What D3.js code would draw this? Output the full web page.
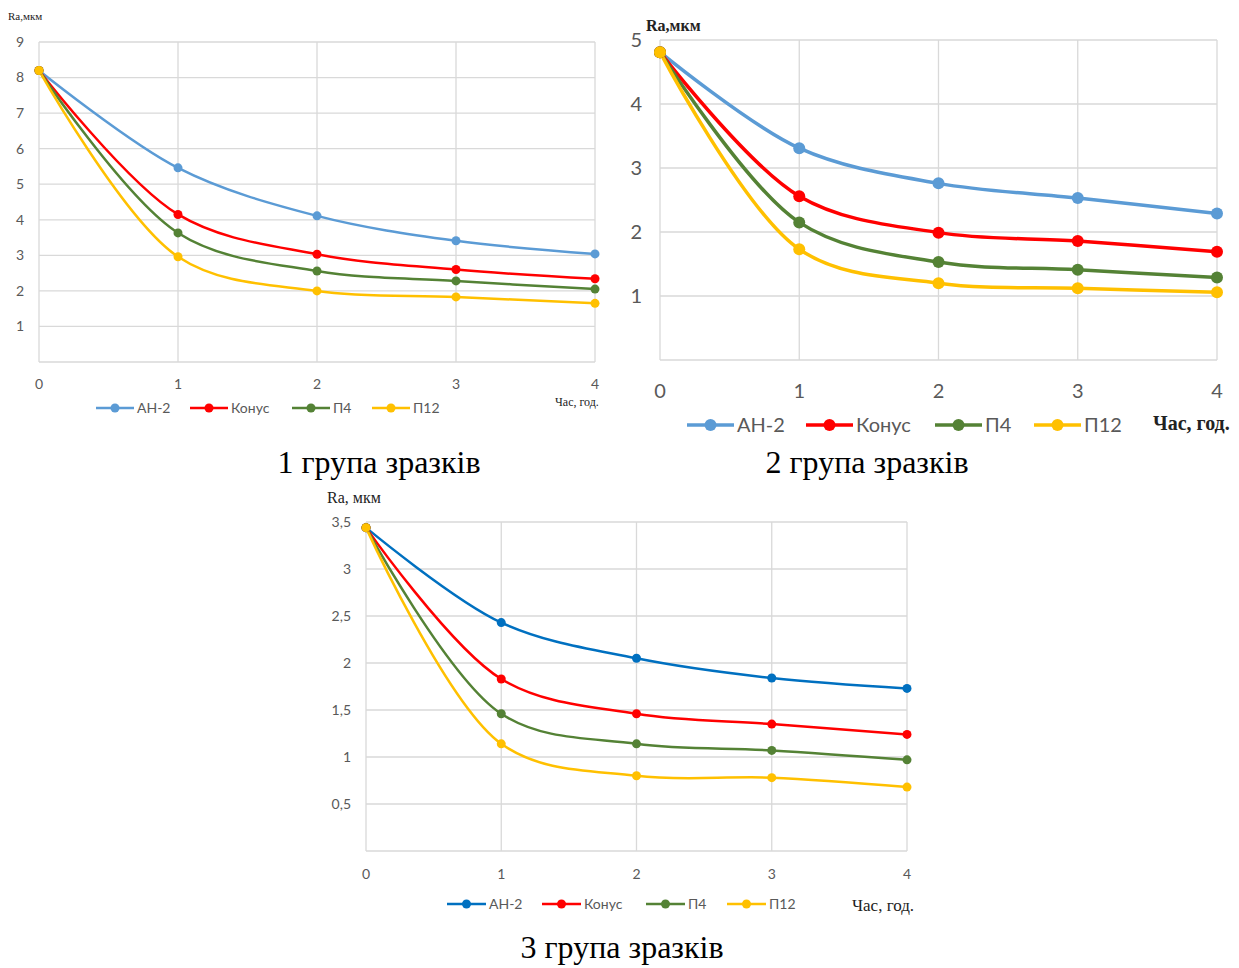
<!DOCTYPE html>
<html>
<head>
<meta charset="utf-8">
<script src="https://cdn.jsdelivr.net/npm/d3@7"></script>
<style>
  body { margin: 0; background: #fff; }
  svg { display: block; }
  .tick-label { fill: #595959; font-family: Lato, "Liberation Sans", sans-serif; }
  .grid line { stroke: #d9d9d9; stroke-width: 1.3; }
  .caption { font-family: "Liberation Serif", serif; fill: #000; }
  .unit { font-family: "Liberation Serif", serif; fill: #222; }
</style>
</head>
<body>
<script>
// shared categories
const hours = [0, 1, 2, 3, 4];
const seriesNames = ["АН-2", "Конус", "П4", "П12"];

// group 1 (Ra, мкм)
const g1AN2   = [8.2, 5.46, 4.11, 3.41, 3.04];
const g1Konus = [8.2, 4.15, 3.03, 2.6, 2.34];
const g1P4    = [8.2, 3.63, 2.56, 2.28, 2.05];
const g1P12   = [8.2, 2.96, 2.0, 1.83, 1.65];
const g1Ticks = [1, 2, 3, 4, 5, 6, 7, 8, 9];

// group 2
const g2AN2   = [4.81, 3.31, 2.76, 2.53, 2.29];
const g2Konus = [4.81, 2.56, 1.99, 1.86, 1.69];
const g2P4    = [4.81, 2.15, 1.53, 1.41, 1.29];
const g2P12   = [4.81, 1.73, 1.2, 1.12, 1.06];
const g2Ticks = [1, 2, 3, 4, 5];

// group 3
const g3AN2   = [3.44, 2.43, 2.05, 1.84, 1.73];
const g3Konus = [3.44, 1.83, 1.46, 1.35, 1.24];
const g3P4    = [3.44, 1.46, 1.14, 1.07, 0.97];
const g3P12   = [3.44, 1.14, 0.8, 0.78, 0.68];
const g3Ticks = [0.5, 1, 1.5, 2, 2.5, 3, 3.5];

const svg = d3.select("body").append("svg")
    .attr("width", 1239)
    .attr("height", 968);

const fmt = d => String(d).replace(".", ",");

function drawPanel(o) {
  const x = d3.scaleLinear().domain([0, 4]).range([o.left, o.right]);
  const y = d3.scaleLinear().domain([0, o.yMax]).range([o.bottom, o.top]);
  const g = svg.append("g");

  // grid
  const grid = g.append("g").attr("class", "grid");
  grid.selectAll(".h").data([0].concat(o.ticks)).enter().append("line")
      .attr("x1", o.left).attr("x2", o.right)
      .attr("y1", d => y(d)).attr("y2", d => y(d));
  grid.selectAll(".v").data(hours).enter().append("line")
      .attr("x1", d => x(d)).attr("x2", d => x(d))
      .attr("y1", o.top).attr("y2", o.bottom);

  // y tick labels
  g.selectAll(".yl").data(o.ticks).enter().append("text")
      .attr("class", "tick-label")
      .attr("x", o.left - o.yPad)
      .attr("y", d => y(d))
      .attr("dy", "0.35em")
      .attr("text-anchor", "end")
      .style("font-size", o.tickSize + "px")
      .text(fmt);

  // x tick labels
  g.selectAll(".xl").data(hours).enter().append("text")
      .attr("class", "tick-label")
      .attr("x", d => x(d))
      .attr("y", o.bottom + o.xPad)
      .attr("text-anchor", "middle")
      .style("font-size", o.tickSize + "px")
      .text(d => d);

  // series
  const line = d3.line()
      .x((d, i) => x(hours[i]))
      .y(d => y(d))
      .curve(d3.curveCatmullRom.alpha(0.5));

  o.series.forEach((vals, si) => {
    g.append("path")
        .attr("d", line(vals))
        .attr("fill", "none")
        .attr("stroke", o.colors[si])
        .attr("stroke-width", o.lw);
  });
  o.series.forEach((vals, si) => {
    g.selectAll(null).data(vals).enter().append("circle")
        .attr("cx", (d, i) => x(hours[i]))
        .attr("cy", d => y(d))
        .attr("r", o.r)
        .attr("fill", o.colors[si]);
  });

  // legend
  seriesNames.forEach((name, si) => {
    const lx = o.legendX[si];
    g.append("line")
        .attr("x1", lx).attr("x2", lx + o.legendLen)
        .attr("y1", o.legendY).attr("y2", o.legendY)
        .attr("stroke", o.colors[si]).attr("stroke-width", o.lw);
    g.append("circle")
        .attr("cx", lx + o.legendLen / 2).attr("cy", o.legendY)
        .attr("r", o.r).attr("fill", o.colors[si]);
    g.append("text")
        .attr("class", "tick-label")
        .attr("x", lx + o.legendLen + 3)
        .attr("y", o.legendY)
        .attr("dy", "0.35em")
        .style("font-size", o.legendSize + "px")
        .text(name);
  });

  // axis titles
  g.append("text").attr("class", "unit")
      .attr("x", o.yTitle[0]).attr("y", o.yTitle[1])
      .style("font-size", o.unitSize + "px")
      .style("font-weight", o.unitBold ? "bold" : "normal")
      .text(o.yTitleText);
  g.append("text").attr("class", "unit")
      .attr("x", o.xTitle[0]).attr("y", o.xTitle[1])
      .style("font-size", o.xUnitSize + "px")
      .style("font-weight", o.unitBold ? "bold" : "normal")
      .text("Час, год.");

  g.append("text").attr("class", "caption")
      .attr("x", o.caption[0]).attr("y", o.caption[1])
      .attr("text-anchor", "middle")
      .style("font-size", "32px")
      .text(o.captionText);
}

drawPanel({
  left: 39, right: 595, top: 42, bottom: 362, yMax: 9, ticks: g1Ticks,
  series: [g1AN2, g1Konus, g1P4, g1P12],
  colors: ["#5b9bd5", "#ff0000", "#548235", "#ffc000"],
  lw: 2.5, r: 4.5, tickSize: 14, yPad: 15, xPad: 27,
  legendX: [96, 190, 292, 372], legendLen: 38, legendY: 408, legendSize: 14,
  unitSize: 11, xUnitSize: 12, unitBold: false, yTitle: [8, 20], yTitleText: "Ra,мкм", xTitle: [555, 406],
  caption: [379, 473], captionText: "1 група зразків"
});

drawPanel({
  left: 660, right: 1217, top: 40, bottom: 360, yMax: 5, ticks: g2Ticks,
  series: [g2AN2, g2Konus, g2P4, g2P12],
  colors: ["#5b9bd5", "#ff0000", "#548235", "#ffc000"],
  lw: 3.5, r: 6, tickSize: 20, yPad: 18, xPad: 38,
  legendX: [687, 806, 935, 1034], legendLen: 47, legendY: 425, legendSize: 20,
  unitSize: 16, xUnitSize: 20, unitBold: true, yTitle: [646, 31], yTitleText: "Ra,мкм", xTitle: [1153, 430],
  caption: [867, 473], captionText: "2 група зразків"
});

drawPanel({
  left: 366, right: 907, top: 522, bottom: 851, yMax: 3.5, ticks: g3Ticks,
  series: [g3AN2, g3Konus, g3P4, g3P12],
  colors: ["#0070c0", "#ff0000", "#548235", "#ffc000"],
  lw: 2.5, r: 4.5, tickSize: 14, yPad: 15, xPad: 28,
  legendX: [447, 542, 646, 727], legendLen: 39, legendY: 904, legendSize: 14,
  unitSize: 16, xUnitSize: 17, unitBold: false, yTitle: [327, 503], yTitleText: "Ra, мкм", xTitle: [852, 911],
  caption: [622, 958], captionText: "3 група зразків"
});
</script>
</body>
</html>
